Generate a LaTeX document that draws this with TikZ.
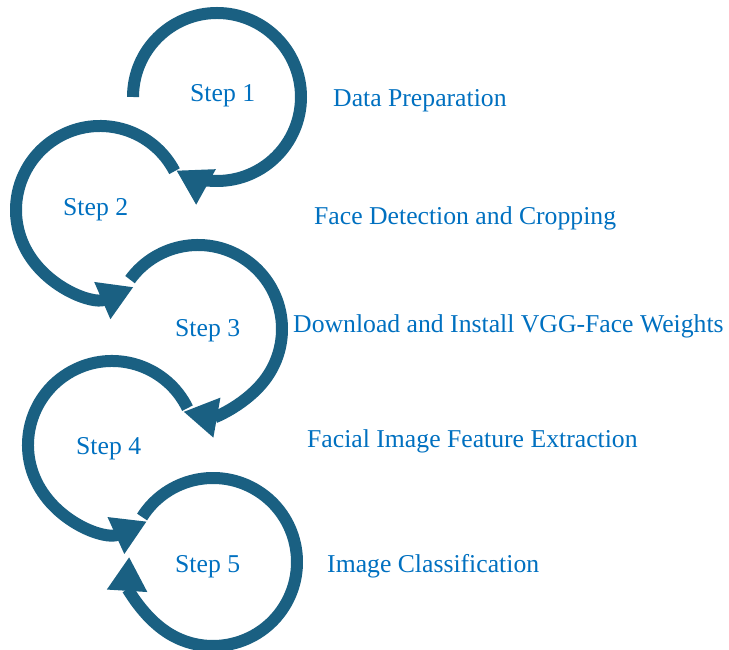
\documentclass[tikz,border=0pt]{standalone}
\usepackage{fontspec}
\setmainfont{Liberation Serif}
\usetikzlibrary{arrows.meta,calc}
\definecolor{ringblue}{HTML}{1A6082}
\definecolor{labelblue}{HTML}{0070C0}
\begin{document}
\begin{tikzpicture}[x=1pt,y=1pt,
  ring/.style={draw=ringblue, line width=12pt,
    -{Triangle[width=38pt,length=34pt]}},
  lbl/.style={text=labelblue, anchor=base west, inner sep=0pt,
    font=\fontsize{25.7}{30}\selectfont}]
\useasboundingbox (0,0) rectangle (729,650);

% centres of the five rings
\coordinate (c1) at (217,553);
\coordinate (c2) at (100,440);
\coordinate (c3) at (198,321);
\coordinate (c4) at (112,205);
\coordinate (c5) at (213,88);

% rings with arrowheads, each leading into the next
\draw[ring] ($(c1)+(180:84)$) arc[start angle=180, end angle=-119, radius=84];
\draw[ring] ($(c2)+(27.5:84)$) arc[start angle=27.5, end angle=293.5, radius=84];
\draw[ring] ($(c3)+(144:84)$) arc[start angle=144, end angle=-100, radius=84];
\draw[ring] ($(c4)+(26:84)$) arc[start angle=26, end angle=294.5, radius=84];
\draw[ring] ($(c5)+(147.6:84)$) arc[start angle=147.6, end angle=-183.5, radius=84];

% step labels
\node[lbl] (s1) at (190,548) {Step 1};
\node[lbl] (s2) at (63,434) {Step 2};
\node[lbl] (s3) at (175,313) {Step 3};
\node[lbl] (s4) at (76,195) {Step 4};
\node[lbl] (s5) at (175,77) {Step 5};

% descriptions
\node[lbl] (d1) at (333,543) {Data Preparation};
\node[lbl] (d2) at (314,425) {Face Detection and Cropping};
\node[lbl] (d3) at (293,317) {Download and Install VGG-Face Weights};
\node[lbl] (d4) at (307,202) {Facial Image Feature Extraction};
\node[lbl] (d5) at (327,77) {Image Classification};
\end{tikzpicture}
\end{document}
